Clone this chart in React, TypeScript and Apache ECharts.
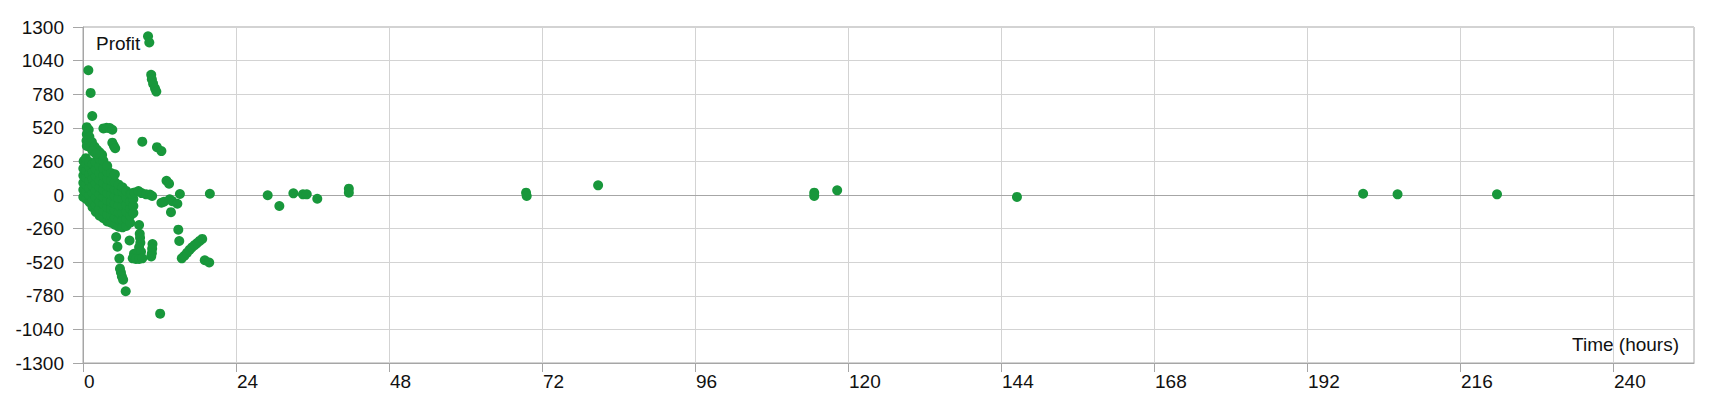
import React, { useEffect, useRef } from "react";
import * as echarts from "echarts";

// [hours, profit]
const coreCluster: [number, number][] = [
  [0.05, -15], [0.05, 40], [0.05, 95], [0.05, 150], [0.05, 205], [0.1, 262],
  [0.5, -30], [0.5, 25], [0.5, 80], [0.5, 135], [0.5, 190], [0.5, 245], [0.45, 285],
  [1.0, -55], [1.0, 0], [1.0, 55], [1.0, 110], [1.0, 165], [1.0, 220], [1.0, 255],
  [1.5, -95], [1.5, -40], [1.5, 15], [1.5, 70], [1.5, 125], [1.5, 180], [1.5, 240],
  [2.0, -130], [2.0, -75], [2.0, -20], [2.0, 35], [2.0, 90], [2.0, 145], [2.0, 200], [2.0, 255],
  [2.6, -160], [2.6, -105], [2.6, -50], [2.6, 5], [2.6, 60], [2.6, 115], [2.6, 170], [2.6, 225], [2.6, 280],
  [3.2, -180], [3.2, -125], [3.2, -70], [3.2, -15], [3.2, 40], [3.2, 95], [3.2, 150], [3.2, 205], [3.2, 265],
  [3.8, -205], [3.8, -150], [3.8, -95], [3.8, -40], [3.8, 15], [3.8, 70], [3.8, 125], [3.8, 180], [3.8, 225],
  [4.4, -215], [4.4, -160], [4.4, -105], [4.4, -50], [4.4, 5], [4.4, 60], [4.4, 115], [4.4, 170],
  [5.0, -230], [5.0, -175], [5.0, -120], [5.0, -65], [5.0, -10], [5.0, 45], [5.0, 100], [5.0, 160],
  [5.6, -245], [5.6, -190], [5.6, -135], [5.6, -80], [5.6, -25], [5.6, 30], [5.6, 80],
  [6.2, -250], [6.2, -195], [6.2, -140], [6.2, -85], [6.2, -30], [6.2, 25], [6.2, 60],
  [6.8, -240], [6.8, -185], [6.8, -130], [6.8, -75], [6.8, -20], [6.8, 30],
  [7.4, -215], [7.4, -160], [7.4, -105], [7.4, -50], [7.4, 5],
  [7.9, -140], [7.9, -85], [7.9, -30], [7.9, 15],
];

const upperArm: [number, number][] = [
  [0.84, 965], [1.2, 790], [1.45, 611],
  [0.6, 525], [0.9, 505], [0.6, 470], [1.0, 450], [0.55, 420], [0.9, 400],
  [1.4, 410], [0.6, 380], [1.1, 370], [1.8, 375], [2.2, 350], [2.6, 330],
  [3.0, 310], [1.5, 340], [2.0, 320],
  [3.2, 515], [3.7, 520], [4.2, 518], [4.6, 505],
  [4.6, 405], [4.85, 380], [5.05, 362],
  [9.3, 413],
  [10.2, 1228], [10.4, 1180],
  [10.7, 930], [10.8, 895], [11.0, 860], [11.3, 825], [11.5, 800],
  [11.6, 370], [12.3, 340],
  [13.1, 110], [13.5, 88],
];

const nearZero: [number, number][] = [
  [7.6, 10], [8.1, 20], [8.7, 30], [9.2, 15], [9.9, 5], [10.5, 3], [10.85, -8],
  [12.3, -60], [12.7, -52], [13.6, -33], [14.0, -48], [14.8, -68], [13.8, -133],
  [15.2, 8], [19.9, 10],
];

const lowerPoints: [number, number][] = [
  [5.2, -325], [5.4, -400], [5.7, -492], [5.8, -570], [5.95, -600], [6.1, -630],
  [6.3, -655], [6.7, -745],
  [7.3, -352],
  [8.8, -232], [8.9, -300], [8.95, -330], [9.0, -370], [8.8, -405],
  [8.0, -455], [8.5, -450], [9.1, -440],
  [7.8, -490], [8.3, -495], [8.8, -495], [9.3, -490],
  [10.9, -380], [10.85, -415], [10.8, -450], [10.7, -475],
  [12.1, -918],
  [14.95, -268], [15.1, -356],
  [15.5, -490], [15.9, -470], [16.3, -448], [16.7, -425], [17.1, -405],
  [17.5, -388], [17.9, -372], [18.3, -355], [18.7, -340],
  [19.1, -505], [19.8, -522],
];

const farPoints: [number, number][] = [
  [28.97, -2], [30.8, -85], [33.0, 13], [34.5, 5], [35.1, 5], [36.75, -29],
  [41.7, 49], [41.7, 18], [69.5, 18], [69.6, -8], [80.8, 75],
  [114.7, 18], [114.7, -8], [118.3, 36], [146.5, -15],
  [200.8, 10], [206.2, 5], [221.8, 5],
];

const xTicks = [0, 24, 48, 72, 96, 120, 144, 168, 192, 216, 240];

const FONT = "'Liberation Sans', Arial, sans-serif";

export default function App() {
  const ref = useRef<HTMLDivElement>(null);

  useEffect(() => {
    if (!ref.current) return;
    const chart = echarts.init(ref.current, undefined, { renderer: "svg" });
    const allPoints = [
      ...coreCluster,
      ...upperArm,
      ...nearZero,
      ...lowerPoints,
      ...farPoints,
    ];
    chart.setOption({
      animation: false,
      backgroundColor: "#ffffff",
      grid: {
        left: 83,
        right: 26,
        top: 27,
        bottom: 37,
        show: true,
        borderColor: "#a6a6a6",
        borderWidth: 1,
        backgroundColor: "transparent",
      },
      xAxis: [
        {
          type: "value",
          min: 0,
          max: 252.7,
          interval: 24,
          position: "bottom",
          axisLine: { onZero: false, show: true, lineStyle: { color: "#a6a6a6" } },
          axisTick: {
            show: true,
            length: 9,
            lineStyle: { color: "#a6a6a6" },
            customValues: xTicks,
          },
          axisLabel: {
            customValues: xTicks,
            align: "left",
            margin: 9,
            padding: [0, 0, 0, 1],
            color: "#111111",
            fontSize: 19,
            fontFamily: FONT,
            formatter: (v: number) => String(v),
          },
          splitLine: { show: true, lineStyle: { color: "#d3d3d3", width: 1 } },
        },
        {
          type: "value",
          min: 0,
          max: 252.7,
          position: "top",
          axisLine: { onZero: true, show: true, lineStyle: { color: "#a6a6a6" } },
          axisTick: { show: false },
          axisLabel: { show: false },
          splitLine: { show: false },
        },
      ],
      yAxis: {
        type: "value",
        min: -1300,
        max: 1300,
        interval: 260,
        axisLine: { show: true, lineStyle: { color: "#a6a6a6" } },
        axisTick: { show: true, length: 10, lineStyle: { color: "#a6a6a6" } },
        axisLabel: {
          margin: 19,
          color: "#111111",
          fontSize: 19,
          fontFamily: FONT,
          formatter: (v: number) => String(v),
        },
        splitLine: { show: true, lineStyle: { color: "#d3d3d3", width: 1 } },
      },
      graphic: [
        {
          type: "text",
          left: 96,
          top: 34,
          style: { text: "Profit", fontSize: 19, fontFamily: FONT, fill: "#111111" },
        },
        {
          type: "text",
          right: 41,
          top: 335,
          style: { text: "Time (hours)", fontSize: 19, fontFamily: FONT, fill: "#111111" },
        },
      ],
      series: [
        {
          type: "scatter",
          xAxisIndex: 0,
          yAxisIndex: 0,
          symbol: "circle",
          symbolSize: 10,
          itemStyle: { color: "#18973b", opacity: 1 },
          data: allPoints,
        },
      ],
    });
    return () => chart.dispose();
  }, []);

  return (
    <div
      ref={ref}
      style={{ position: "fixed", left: 0, top: 0, width: 1720, height: 400 }}
    />
  );
}
